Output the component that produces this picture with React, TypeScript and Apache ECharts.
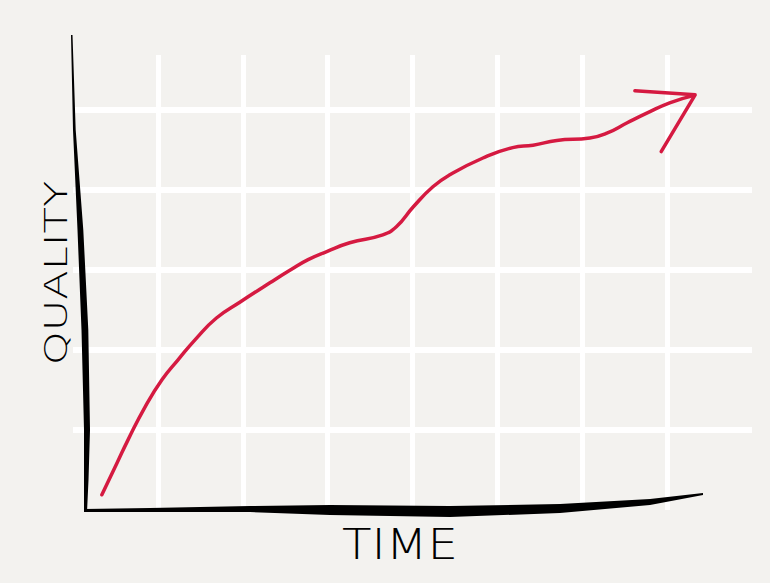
import React, { useEffect, useRef } from "react";
import * as echarts from "echarts";

const xTicks = [1, 2, 3, 4, 5, 6, 7];
const yTicks = [1, 2, 3, 4, 5];
const curveX = [0.34, 0.52, 0.65, 0.85, 1.05, 1.24, 1.44, 1.69, 1.97, 2.32, 2.56, 2.77, 2.99, 3.26, 3.65, 3.81, 4.01, 4.24, 4.44, 4.83, 5.18, 5.42, 5.7, 6.09, 6.29, 6.53, 6.76, 7.03, 7.31];
const curveY = [0.19, 0.59, 0.88, 1.29, 1.63, 1.88, 2.13, 2.4, 2.6, 2.84, 3.0, 3.13, 3.23, 3.34, 3.44, 3.54, 3.79, 4.04, 4.19, 4.4, 4.53, 4.56, 4.62, 4.65, 4.71, 4.84, 4.96, 5.09, 5.18];
const arrowX = [6.62, 7.33, 6.93];
const arrowY = [5.24, 5.19, 4.48];
const xLabel = "TIME";
const yLabel = "QUALITY";

export default function App() {
  const ref = useRef<HTMLDivElement>(null);
  useEffect(() => {
    const chart = echarts.init(ref.current!, null, { renderer: "svg" });
    const red = "#d51a41";
    chart.setOption({
      animation: false,
      backgroundColor: "#f3f2ef",
      grid: { left: 73, right: 18, top: 55, bottom: 73 },
      xAxis: {
        type: "value",
        min: 0,
        max: 8,
        interval: 1,
        axisLine: { show: false },
        axisTick: { show: false },
        axisLabel: { show: false },
        splitLine: { show: true, showMinLine: false, showMaxLine: false, lineStyle: { color: "#ffffff", width: 5 } },
      },
      yAxis: {
        type: "value",
        min: 0,
        max: 5.6875,
        interval: 1,
        axisLine: { show: false },
        axisTick: { show: false },
        axisLabel: { show: false },
        splitLine: { show: true, showMinLine: false, showMaxLine: false, lineStyle: { color: "#ffffff", width: 6 } },
      },
      series: [
        {
          type: "line",
          data: curveX.map((x, i) => [x, curveY[i]]),
          smooth: true,
          symbol: "none",
          lineStyle: { color: red, width: 3.5, cap: "round", join: "round" },
          z: 5,
        },
        {
          type: "line",
          data: arrowX.map((x, i) => [x, arrowY[i]]),
          symbol: "none",
          lineStyle: { color: red, width: 3.5, cap: "round", join: "round" },
          z: 5,
        },
      ],
      graphic: [
        {
          type: "polygon",
          z: 10,
          shape: {
            points: [
              [71, 35], [73, 130], [77.5, 230], [81.5, 330], [84, 430], [84, 512],
              [87, 512], [88.5, 480], [90, 430], [88.3, 330], [83.3, 230], [75.7, 130], [72.5, 35],
            ],
          },
          style: { fill: "#000000" },
        },
        {
          type: "polygon",
          z: 10,
          shape: {
            points: [
              [84, 509], [150, 508], [250, 506], [330, 505], [450, 506], [560, 504], [650, 499], [703, 493],
              [703, 495], [650, 505], [560, 513], [450, 517], [330, 515], [250, 512], [150, 512], [84, 512],
            ],
          },
          style: { fill: "#000000" },
        },
        {
          type: "text",
          x: 400,
          y: 545,
          z: 10,
          scaleX: 1.15,
          style: {
            text: xLabel,
            fill: "#000000",
            font: "200 42px 'DejaVu Sans', Roboto, sans-serif",
            align: "center",
            verticalAlign: "middle",
          },
        },
        {
          type: "text",
          x: 56,
          y: 273,
          rotation: Math.PI / 2,
          scaleX: 1.35,
          z: 10,
          style: {
            text: yLabel,
            fill: "#000000",
            font: "200 32px 'DejaVu Sans', Roboto, sans-serif",
            align: "center",
            verticalAlign: "middle",
          },
        },
      ],
    });
    return () => chart.dispose();
  }, []);
  return <div ref={ref} style={{ width: 770, height: 583, position: "absolute", left: 0, top: 0 }} />;
}
